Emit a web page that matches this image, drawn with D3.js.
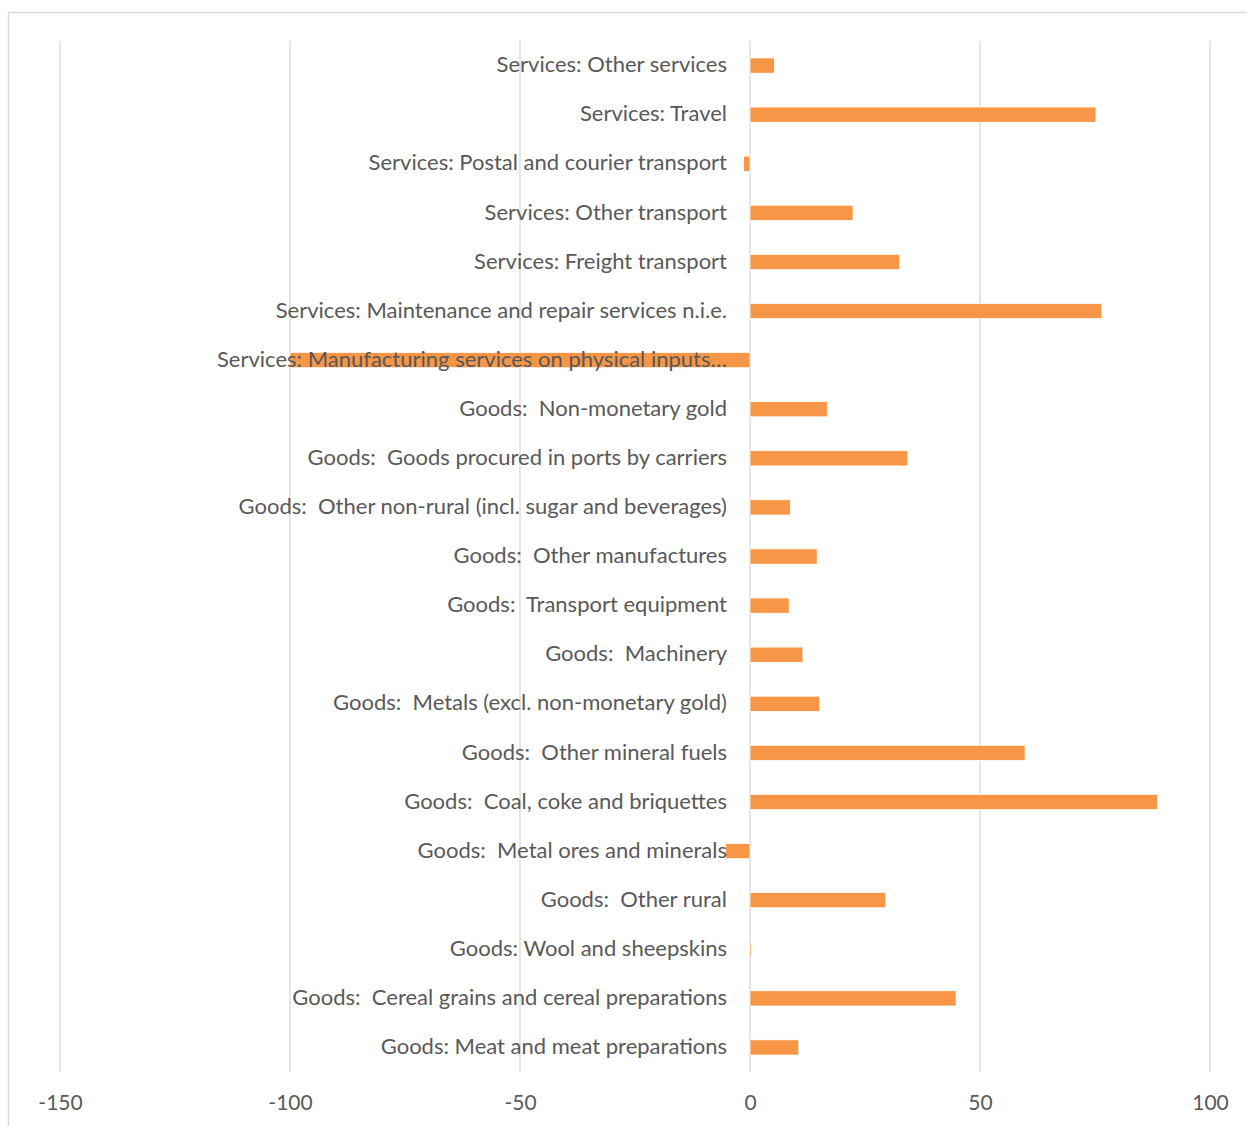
<!DOCTYPE html>
<html>
<head>
<meta charset="utf-8">
<script src="https://cdn.jsdelivr.net/npm/d3@7"></script>
<style>
  html, body { margin: 0; padding: 0; background: #fff; }
  svg text { white-space: pre; }
</style>
</head>
<body>
<svg id="chart" width="1247" height="1126"></svg>
<script>
// Categories, top to bottom as displayed
const categories = [
  "Services: Other services",
  "Services: Travel",
  "Services: Postal and courier transport",
  "Services: Other transport",
  "Services: Freight transport",
  "Services: Maintenance and repair services n.i.e.",
  "Services: Manufacturing services on physical inputs…",
  "Goods:  Non-monetary gold",
  "Goods:  Goods procured in ports by carriers",
  "Goods:  Other non-rural (incl. sugar and beverages)",
  "Goods:  Other manufactures",
  "Goods:  Transport equipment",
  "Goods:  Machinery",
  "Goods:  Metals (excl. non-monetary gold)",
  "Goods:  Other mineral fuels",
  "Goods:  Coal, coke and briquettes",
  "Goods:  Metal ores and minerals",
  "Goods:  Other rural",
  "Goods: Wool and sheepskins",
  "Goods:  Cereal grains and cereal preparations",
  "Goods: Meat and meat preparations"
];
const values = [
  5.3, 75.2, -1.4, 22.4, 32.5, 76.5, -100.0,
  16.8, 34.3, 8.8, 14.6, 8.5, 11.5, 15.1, 59.8, 88.6,
  -5.3, 29.5, 0.3, 44.8, 10.6
];
const tickValues = [-150, -100, -50, 0, 50, 100];
const tickLabels = ["-150", "-100", "-50", "0", "50", "100"];

const data = categories.map((c, i) => ({ category: c, value: values[i] }));

const svg = d3.select("#chart");
const FONT = "Lato, 'Open Sans', sans-serif";
const TEXT = "#595959";
const GRID = "#d9d9d9";

// outer chart border
svg.append("rect")
  .attr("x", 8.5).attr("y", 12.5)
  .attr("width", 1260).attr("height", 1140)
  .attr("fill", "none").attr("stroke", GRID).attr("stroke-width", 1.3);

const x = d3.scaleLinear().domain([-150, 100]).range([60, 1210]);
const y = d3.scaleBand().domain(categories).range([41, 1072])
  .paddingInner(0.69).paddingOuter(0.345);

// gridlines
svg.append("g").selectAll("line").data(tickValues).join("line")
  .attr("x1", d => x(d)).attr("x2", d => x(d))
  .attr("y1", 41).attr("y2", 1072)
  .attr("stroke", GRID).attr("stroke-width", 1.3);

// bars
svg.append("g").selectAll("rect").data(data).join("rect")
  .attr("x", d => x(Math.min(0, d.value)))
  .attr("width", d => Math.abs(x(d.value) - x(0)))
  .attr("y", d => y(d.category))
  .attr("height", y.bandwidth())
  .attr("fill", "#F79646")
  .attr("stroke", "#fff").attr("stroke-width", 0.75);

// category labels
svg.append("g").selectAll("text").data(data).join("text")
  .attr("x", 727)
  .attr("y", d => y(d.category) + y.bandwidth() / 2 - 1)
  .attr("dy", "0.35em")
  .attr("text-anchor", "end")
  .attr("font-family", FONT).attr("font-size", 22)
  .attr("fill", TEXT)
  .text(d => d.category);

// x axis tick labels
const xAxis = d3.axisBottom(x).tickValues(tickValues).tickSize(0).tickPadding(0)
  .tickFormat((d, i) => tickLabels[i]);
const gx = svg.append("g").attr("transform", "translate(0,1096)").call(xAxis);
gx.select(".domain").remove();
gx.selectAll("text")
  .attr("font-family", FONT).attr("font-size", 21).attr("fill", TEXT)
  .attr("dy", "0.35em").attr("y", 7);
</script>
</body>
</html>
